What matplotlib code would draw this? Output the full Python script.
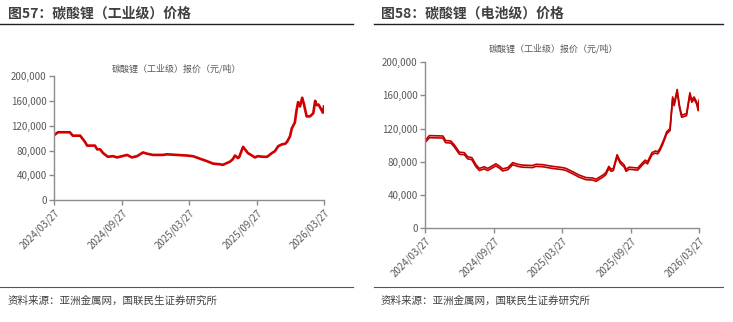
import pandas as pd
import matplotlib
matplotlib.use('Agg')
import matplotlib.pyplot as plt
import matplotlib.dates as mdates
from matplotlib.ticker import FuncFormatter

plt.rcParams['font.family'] = ['Noto Sans CJK SC', 'DejaVu Sans']

# 图57 碳酸锂（工业级）
ind_dates = ['2024-03-27', '2024-04-06', '2024-05-08', '2024-05-16', '2024-06-05', '2024-06-18',
             '2024-06-24', '2024-07-15', '2024-07-21', '2024-07-29', '2024-08-06', '2024-08-19',
             '2024-09-02', '2024-09-13', '2024-10-10', '2024-10-23', '2024-11-06', '2024-11-22',
             '2024-12-03', '2024-12-19', '2025-01-15', '2025-01-26', '2025-03-21', '2025-04-06',
             '2025-04-25', '2025-05-14', '2025-05-31', '2025-06-18', '2025-06-26', '2025-07-15',
             '2025-07-23', '2025-07-29', '2025-08-06', '2025-08-09', '2025-08-20', '2025-09-02',
             '2025-09-13', '2025-09-21', '2025-09-29', '2025-10-13', '2025-10-24', '2025-11-06',
             '2025-11-14', '2025-11-23', '2025-12-03', '2025-12-12', '2025-12-17', '2025-12-25',
             '2025-12-30', '2026-01-07', '2026-01-12', '2026-01-16', '2026-01-21', '2026-01-27',
             '2026-02-01', '2026-02-08', '2026-02-17', '2026-02-26', '2026-03-03', '2026-03-07',
             '2026-03-12', '2026-03-16', '2026-03-24', '2026-03-27']
ind_price = [105000, 109500, 109500, 104000, 104000, 94000,
             88000, 88000, 82000, 82000, 76000, 70000,
             71000, 69000, 73000, 69000, 71000, 77000,
             75000, 73000, 73000, 74000, 72000, 71000,
             67000, 63000, 59000, 58000, 57000, 62000,
             66000, 72000, 68000, 69000, 86000, 76000,
             72000, 69000, 71000, 70000, 70000, 76000,
             79000, 87000, 90000, 91000, 94000, 103000,
             116000, 125000, 146000, 158000, 151000, 165000,
             154000, 135000, 135000, 140000, 160000, 153000,
             154000, 150000, 141000, 151000]

# 图58 碳酸锂（电池级）
bat_dates = ['2024-03-27', '2024-04-07', '2024-05-13', '2024-05-20', '2024-06-03', '2024-06-12',
             '2024-06-26', '2024-07-09', '2024-07-18', '2024-07-29', '2024-08-09', '2024-08-18',
             '2024-08-31', '2024-09-09', '2024-10-01', '2024-10-10', '2024-10-19', '2024-11-02',
             '2024-11-15', '2024-11-28', '2024-12-11', '2025-01-07', '2025-01-16', '2025-02-03',
             '2025-03-01', '2025-03-28', '2025-04-06', '2025-04-24', '2025-05-11', '2025-05-29',
             '2025-06-16', '2025-06-25', '2025-07-13', '2025-07-21', '2025-07-29', '2025-08-04',
             '2025-08-10', '2025-08-20', '2025-08-28', '2025-09-08', '2025-09-13', '2025-09-21',
             '2025-10-14', '2025-10-27', '2025-11-03', '2025-11-09', '2025-11-21', '2025-11-30',
             '2025-12-06', '2025-12-12', '2025-12-20', '2025-12-26', '2025-12-30', '2026-01-08',
             '2026-01-15', '2026-01-19', '2026-01-27', '2026-02-02', '2026-02-08', '2026-02-21',
             '2026-03-02', '2026-03-07', '2026-03-13', '2026-03-20', '2026-03-24', '2026-03-27']
bat_high = [106000, 111500, 111000, 105500, 105000, 100500,
            91500, 91000, 86000, 85000, 76500, 72000,
            74000, 72000, 77500, 75000, 71500, 73000,
            79000, 77000, 76000, 75500, 77000, 76500,
            74500, 73000, 72000, 68000, 64000, 61000,
            60500, 59000, 64000, 67000, 74500, 71000,
            72000, 88500, 81000, 76000, 71000, 73500,
            72500, 79000, 82000, 80000, 91000, 93000,
            92000, 96000, 104000, 111000, 116000, 120000,
            158000, 150000, 167000, 148000, 136000, 138000,
            163000, 154000, 158000, 152000, 144000, 155000]
bat_low = [103500, 109000, 108500, 103000, 102500, 98000,
           89000, 88500, 83500, 82500, 74000, 69500,
           71500, 69500, 75000, 72500, 69000, 70500,
           76500, 74500, 73500, 73000, 74500, 74000,
           72000, 70500, 69500, 65500, 61500, 58500,
           58000, 56500, 61500, 64500, 72000, 68500,
           69500, 86000, 78500, 73500, 68500, 71000,
           70000, 76500, 79500, 77500, 88500, 90500,
           89500, 93500, 101500, 108500, 113500, 117500,
           155500, 147500, 164500, 145500, 133500, 135500,
           160500, 151500, 155500, 149500, 141500, 152500]

xticks = ['2024-03-27', '2024-09-27', '2025-03-27', '2025-09-27', '2026-03-27']

W, H = 733, 322
fig = plt.figure(figsize=(W / 100, H / 100), dpi=100)

GRAY = '#595959'
SPINE = '#8c8c8c'


def fx(px):
    return px / W


def fy(py):
    return 1 - py / H


def style_axes(ax):
    for s in ['top', 'right']:
        ax.spines[s].set_visible(False)
    for s in ['left', 'bottom']:
        ax.spines[s].set_color(SPINE)
        ax.spines[s].set_linewidth(1.0)
    ax.set_xlim(pd.Timestamp('2024-03-27'), pd.Timestamp('2026-03-27'))
    ax.set_ylim(0, 200000)
    ax.set_xticks(pd.to_datetime(xticks))
    ax.xaxis.set_major_formatter(mdates.DateFormatter('%Y/%m/%d'))
    ax.yaxis.set_major_formatter(FuncFormatter(lambda v, p: f'{int(v):,}'))
    ax.tick_params(axis='both', direction='out', length=3.5, width=1.0, color=SPINE,
                   labelcolor=GRAY, labelsize=7, pad=2)
    for lab in ax.get_xticklabels():
        lab.set_rotation(45)
        lab.set_ha('right')
        lab.set_rotation_mode('anchor')


# ---- left panel ----
fig.text(fx(8), fy(13), '图57：碳酸锂（工业级）价格', fontsize=10, fontweight='bold',
         color='#404040', va='center', ha='left')
fig.add_artist(plt.Line2D([0, fx(353)], [fy(24), fy(24)], color='#222222', lw=1.0))
fig.add_artist(plt.Line2D([0, fx(353)], [fy(287), fy(287)], color='#555555', lw=0.8))
fig.text(fx(8), fy(301), '资料来源：亚洲金属网，国联民生证券研究所', fontsize=7.6,
         color='#404040', va='center', ha='left')

ax1 = fig.add_axes([fx(54.3), fy(200.3), fx(324 - 54.3), (200.3 - 76) / H])
ax1.plot(pd.to_datetime(ind_dates), ind_price, color='#D00000', lw=1.9)
ax1.set_yticks([0, 40000, 80000, 120000, 160000, 200000])
style_axes(ax1)
fig.text(fx(176), fy(69), '碳酸锂（工业级）报价（元/吨）', fontsize=6.5, color=GRAY,
         ha='center', va='center')

# ---- right panel ----
fig.text(fx(381), fy(13), '图58：碳酸锂（电池级）价格', fontsize=10, fontweight='bold',
         color='#404040', va='center', ha='left')
fig.add_artist(plt.Line2D([fx(374), fx(723)], [fy(24), fy(24)], color='#222222', lw=1.0))
fig.add_artist(plt.Line2D([fx(374), fx(723)], [fy(287), fy(287)], color='#555555', lw=0.8))
fig.text(fx(381), fy(301), '资料来源：亚洲金属网，国联民生证券研究所', fontsize=7.6,
         color='#404040', va='center', ha='left')

ax2 = fig.add_axes([fx(425.3), fy(228.3), fx(699.3 - 425.3), (228.3 - 62) / H])
ax2.plot(pd.to_datetime(bat_dates), bat_high, color='#C00000', lw=1.2)
ax2.plot(pd.to_datetime(bat_dates), bat_low, color='#C00000', lw=1.2)
ax2.set_yticks([0, 40000, 80000, 120000, 160000, 200000])
style_axes(ax2)
fig.text(fx(553), fy(49), '碳酸锂（工业级）报价（元/吨）', fontsize=6.5, color=GRAY,
         ha='center', va='center')

fig.savefig('out.png', dpi=100)
